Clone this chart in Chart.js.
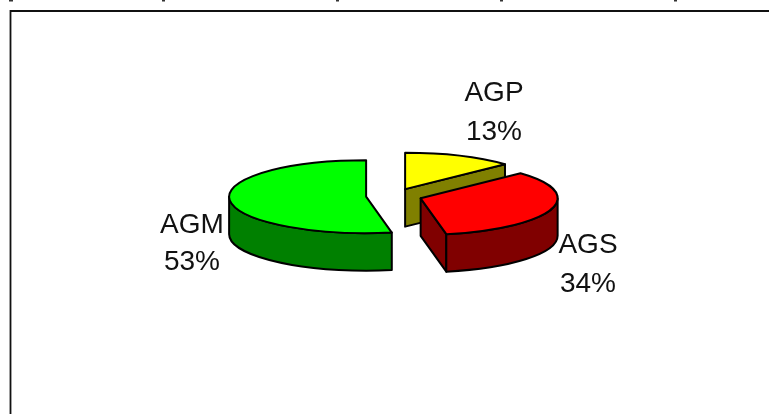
<!DOCTYPE html>
<html>
<head>
<meta charset="utf-8">
<title>AGP AGS AGM</title>
<style>
  html, body { margin: 0; padding: 0; background: #fff; overflow: hidden; }
  canvas { display: block; }
</style>
<script src="https://cdn.jsdelivr.net/npm/chart.js@4"></script>
</head>
<body>
<canvas id="pieChart" width="769" height="414"></canvas>
<script>
const categories = ["AGP", "AGS", "AGM"];
const shares = [13, 34, 53];

const topColors = ["#ffff00", "#ff0000", "#00ff00"];
const wallColors = ["#808000", "#800000", "#008000"];

// label spots, measured on the reference: [centre x, name baseline, percent baseline]
const labelSpots = [[494, 101, 140], [588, 253, 292], [192, 233, 270]];

// bottoms of the title letters that the reference crops at its top edge
const croppedLetters = [[9, 4], [162, 3], [336, 3], [500, 3], [674, 3]];

const tilt = 36.5 / 137;
const depth = 37.5;

function pieGeometry(chart, arc) {
  const mid = (arc.startAngle + arc.endAngle) / 2;
  const offset = arc.options.offset;
  const { top, bottom } = chart.chartArea;
  const cy = (top + bottom) / 2;
  return {
    x: arc.x + Math.cos(mid) * offset,
    y: cy + Math.sin(mid) * offset * tilt,
    a: arc.outerRadius,
    b: arc.outerRadius * tilt
  };
}

function strokeFill(ctx, color) {
  ctx.fillStyle = color;
  ctx.fill();
  ctx.stroke();
}

function drawRadialWall(ctx, g, angle, color) {
  const ex = g.x + Math.cos(angle) * g.a;
  const ey = g.y + Math.sin(angle) * g.b;
  ctx.beginPath();
  ctx.moveTo(g.x, g.y);
  ctx.lineTo(ex, ey);
  ctx.lineTo(ex, ey + depth);
  ctx.lineTo(g.x, g.y + depth);
  ctx.closePath();
  strokeFill(ctx, color);
}

function drawOuterWall(ctx, g, start, end, color) {
  // only the part of the rim facing the viewer, angles 0 to PI
  const from = Math.max(start, 0);
  const to = Math.min(end, Math.PI);
  if (to <= from) return;
  ctx.beginPath();
  ctx.ellipse(g.x, g.y, g.a, g.b, 0, from, to);
  ctx.ellipse(g.x, g.y + depth, g.a, g.b, 0, to, from, true);
  ctx.closePath();
  strokeFill(ctx, color);
}

const tiltedPie = {
  id: "tiltedPie",
  beforeDatasetsDraw(chart) {
    const ctx = chart.ctx;
    const arcs = chart.getDatasetMeta(0).data;
    ctx.save();
    ctx.strokeStyle = "#000";
    ctx.lineWidth = 2;
    ctx.lineJoin = "round";
    arcs.forEach((arc, i) => {
      const g = pieGeometry(chart, arc);
      const start = arc.startAngle;
      const end = arc.endAngle;
      if (Math.cos(start) < -0.001) drawRadialWall(ctx, g, start, wallColors[i]);
      if (Math.cos(end) > 0.001) drawRadialWall(ctx, g, end, wallColors[i]);
      drawOuterWall(ctx, g, start, end, wallColors[i]);
      ctx.beginPath();
      ctx.moveTo(g.x, g.y);
      ctx.ellipse(g.x, g.y, g.a, g.b, 0, start, end);
      ctx.closePath();
      strokeFill(ctx, topColors[i]);
    });
    ctx.restore();
    return false;
  },
  afterDraw(chart) {
    const ctx = chart.ctx;
    ctx.save();
    ctx.fillStyle = "#111";
    ctx.font = "28px 'Liberation Sans'";
    ctx.textAlign = "center";
    categories.forEach((name, i) => {
      const [x, nameY, shareY] = labelSpots[i];
      ctx.fillText(name, x, nameY);
      ctx.fillText(shares[i] + "%", x, shareY);
    });
    ctx.restore();
  }
};

const pageFrame = {
  id: "pageFrame",
  beforeDraw(chart) {
    const ctx = chart.ctx;
    ctx.save();
    ctx.fillStyle = "#fff";
    ctx.fillRect(0, 0, 769, 414);
    ctx.strokeStyle = "#111";
    ctx.lineWidth = 1.8;
    ctx.beginPath();
    ctx.moveTo(10.5, 414);
    ctx.lineTo(10.5, 11);
    ctx.lineTo(769, 11);
    ctx.stroke();
    ctx.fillStyle = "#333";
    croppedLetters.forEach(([x, w]) => ctx.fillRect(x, 0, w, 1.5));
    ctx.restore();
  }
};

new Chart(document.getElementById("pieChart"), {
  type: "pie",
  data: {
    labels: categories,
    datasets: [{
      data: shares,
      backgroundColor: topColors,
      offset: 28,
      radius: 137
    }]
  },
  options: {
    responsive: false,
    animation: false,
    layout: { padding: { left: 19, top: 0, right: 0, bottom: 22 } },
    plugins: {
      legend: { display: false },
      tooltip: { enabled: false }
    }
  },
  plugins: [pageFrame, tiltedPie]
});
</script>
</body>
</html>
